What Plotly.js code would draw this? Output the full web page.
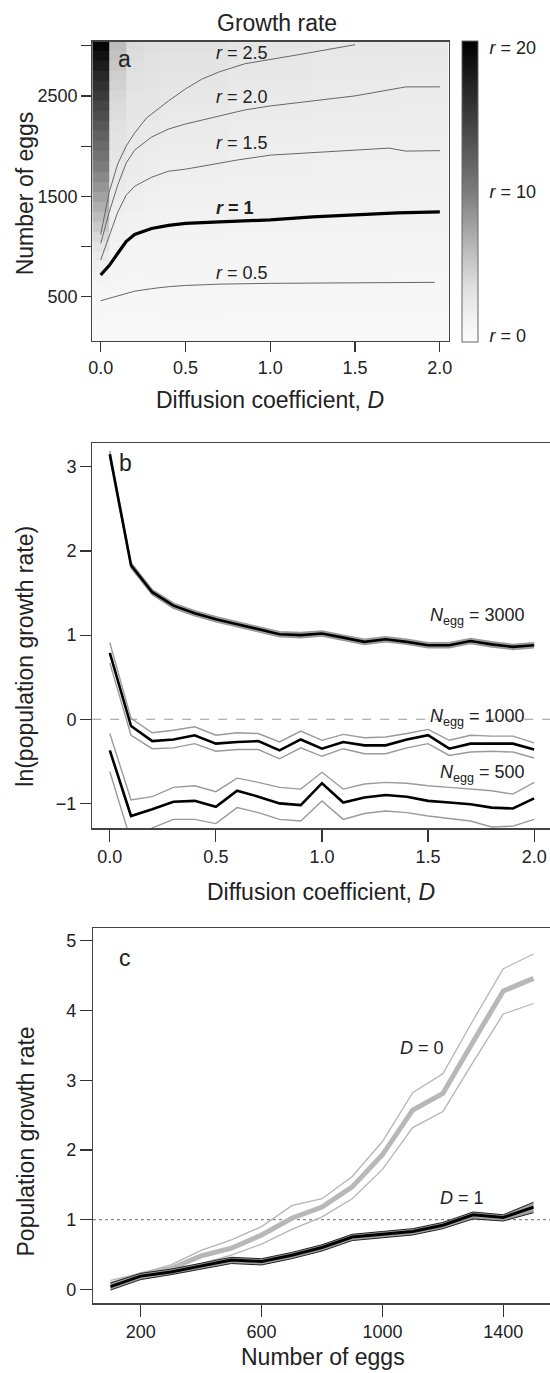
<!DOCTYPE html>
<html><head><meta charset="utf-8">
<script src="https://cdn.plot.ly/plotly-3.0.1.min.js"></script>
<style>html,body{margin:0;padding:0;overflow:hidden;background:#fff;width:550px;height:1373px}#chart{width:560px;height:1373px}</style>
</head><body><div id="chart"></div><script>
// ---------- Panel a: heatmap of growth rate r ----------
const heatEdgesD = [-0.05, 0.05, 0.15, 0.25, 0.35, 0.75, 1.25, 1.75, 2.05];
const heatEdgesEggs = [50,150,250,350,450,550,650,750,850,950,1050,1150,1250,1350,1450,1550,1650,1750,1850,1950,2050,2150,2250,2350,2450,2550,2650,2750,2850,2950,3050];
// r values per D column, eggs 100 .. 3000
const rD00 = [0.05,0.15,0.25,0.35,0.5,0.7,1.0,1.4,2.0,2.8,3.8,4.9,5.8,6.7,7.6,8.4,9.2,10.0,10.8,11.5,12.2,13.0,13.8,14.5,15.3,16.2,17.0,18.0,19.0,20.0];
const rD01 = [0.04,0.1,0.17,0.25,0.35,0.45,0.57,0.7,0.85,1.0,1.15,1.3,1.5,1.7,1.9,2.05,2.25,2.4,2.6,2.8,3.0,3.2,3.45,3.65,3.9,4.25,4.6,5.0,5.4,5.8];
const rD02 = [0.04,0.09,0.15,0.22,0.3,0.4,0.5,0.6,0.72,0.85,0.98,1.1,1.25,1.42,1.6,1.72,1.84,1.96,2.08,2.2,2.34,2.48,2.62,2.76,2.9,3.04,3.18,3.32,3.46,3.6];
const rD03 = [0.04,0.09,0.15,0.25,0.38,0.52,0.6,0.68,0.76,0.84,0.92,1.02,1.12,1.22,1.32,1.42,1.52,1.65,1.78,1.9,2.03,2.25,2.5,2.62,2.74,2.86,2.98,3.08,3.2,3.3];
const rD05 = [0.04,0.1,0.18,0.28,0.4,0.49,0.57,0.65,0.73,0.8,0.88,0.97,1.07,1.16,1.24,1.33,1.42,1.53,1.67,1.8,1.9,1.97,2.12,2.28,2.42,2.55,2.7,2.85,3.0,3.2];
const rD10 = [0.03,0.09,0.17,0.26,0.38,0.48,0.55,0.62,0.7,0.78,0.86,0.94,1.03,1.1,1.17,1.25,1.33,1.41,1.49,1.58,1.67,1.78,1.89,2.0,2.1,2.2,2.31,2.42,2.55,2.7];
const rD15 = [0.03,0.09,0.17,0.26,0.37,0.47,0.54,0.61,0.68,0.75,0.83,0.91,0.99,1.06,1.13,1.2,1.27,1.35,1.44,1.53,1.62,1.71,1.8,1.9,2.0,2.09,2.18,2.27,2.36,2.45];
const rD20 = [0.03,0.09,0.16,0.25,0.36,0.46,0.53,0.6,0.67,0.74,0.81,0.88,0.96,1.03,1.1,1.18,1.26,1.34,1.42,1.51,1.6,1.68,1.76,1.85,1.93,2.01,2.1,2.2,2.3,2.4];

// contour lines (D, eggs)
const r25D = [0, 0.05, 0.1, 0.15, 0.2, 0.27, 0.4, 0.5, 0.6, 0.7, 0.85, 1.0, 1.2, 1.5];
const r25N = [1120, 1540, 1820, 2000, 2130, 2280, 2450, 2570, 2670, 2740, 2820, 2860, 2920, 3010];
const r20D = [0, 0.05, 0.1, 0.15, 0.2, 0.3, 0.4, 0.5, 0.6, 0.7, 0.85, 1.0, 1.25, 1.5, 1.8, 2.0];
const r20N = [1030, 1340, 1610, 1830, 1960, 2090, 2170, 2220, 2260, 2300, 2360, 2400, 2450, 2500, 2590, 2590];
const r15D = [0, 0.05, 0.1, 0.15, 0.2, 0.3, 0.4, 0.5, 0.6, 0.8, 1.0, 1.3, 1.5, 1.7, 1.8, 2.0];
const r15N = [866, 1100, 1340, 1510, 1600, 1690, 1750, 1770, 1800, 1860, 1910, 1940, 1960, 1980, 1950, 1955];
const r10D = [0, 0.05, 0.1, 0.15, 0.2, 0.3, 0.4, 0.5, 0.7, 1.0, 1.25, 1.5, 1.75, 2.0];
const r10N = [716, 810, 930, 1050, 1120, 1180, 1210, 1230, 1245, 1265, 1295, 1315, 1335, 1345];
const r05D = [0, 0.1, 0.2, 0.3, 0.4, 0.5, 0.7, 1.0, 1.5, 1.97];
const r05N = [460, 510, 555, 580, 600, 612, 625, 633, 638, 643];

// ---------- Panel b: ln(growth rate) vs D ----------
const Dvals = [0,0.1,0.2,0.3,0.4,0.5,0.6,0.7,0.8,0.9,1.0,1.1,1.2,1.3,1.4,1.5,1.6,1.7,1.8,1.9,2.0];
const n3000 = [3.15,1.83,1.51,1.35,1.26,1.19,1.13,1.07,1.01,1.00,1.02,0.97,0.92,0.95,0.92,0.88,0.88,0.93,0.89,0.86,0.88];
const n3000hi = [3.19,1.86,1.54,1.38,1.29,1.22,1.16,1.10,1.04,1.03,1.05,1.00,0.95,0.98,0.95,0.91,0.91,0.96,0.92,0.89,0.91];
const n3000lo = [3.11,1.80,1.48,1.32,1.23,1.16,1.10,1.04,0.98,0.97,0.99,0.94,0.89,0.92,0.89,0.85,0.85,0.90,0.86,0.83,0.85];
const n1000 = [0.79,-0.08,-0.26,-0.24,-0.19,-0.29,-0.27,-0.26,-0.37,-0.24,-0.35,-0.27,-0.31,-0.31,-0.24,-0.19,-0.35,-0.29,-0.29,-0.29,-0.36];
const n1000hi = [0.91,0.01,-0.16,-0.13,-0.09,-0.19,-0.16,-0.17,-0.27,-0.14,-0.25,-0.18,-0.22,-0.21,-0.17,-0.12,-0.25,-0.19,-0.20,-0.20,-0.28];
const n1000lo = [0.67,-0.19,-0.35,-0.34,-0.29,-0.38,-0.36,-0.36,-0.47,-0.34,-0.44,-0.35,-0.41,-0.41,-0.34,-0.29,-0.43,-0.39,-0.38,-0.39,-0.46];
const n500 = [-0.37,-1.15,-1.07,-0.98,-0.97,-1.04,-0.85,-0.92,-1.00,-1.02,-0.76,-0.99,-0.93,-0.90,-0.92,-0.97,-0.99,-1.01,-1.05,-1.06,-0.94];
const n500hi = [-0.17,-0.96,-0.92,-0.81,-0.79,-0.86,-0.70,-0.75,-0.81,-0.83,-0.63,-0.83,-0.77,-0.75,-0.76,-0.79,-0.81,-0.83,-0.85,-0.89,-0.75];
const n500lo = [-0.62,-1.45,-1.29,-1.19,-1.19,-1.24,-1.05,-1.11,-1.19,-1.21,-0.97,-1.19,-1.12,-1.09,-1.11,-1.15,-1.18,-1.21,-1.28,-1.27,-1.19];

// ---------- Panel c: growth rate vs number of eggs ----------
const eggs = [100,200,300,400,500,600,700,800,900,1000,1100,1200,1300,1400,1500];
const d0 = [0.07,0.21,0.30,0.48,0.59,0.78,1.02,1.18,1.47,1.93,2.57,2.81,3.55,4.28,4.46];
const d0hi = [0.13,0.23,0.35,0.56,0.71,0.90,1.20,1.30,1.62,2.12,2.82,3.09,3.86,4.60,4.81];
const d0lo = [0.01,0.17,0.28,0.37,0.49,0.65,0.86,1.04,1.30,1.72,2.32,2.55,3.26,3.95,4.10];
const d1 = [0.04,0.19,0.25,0.33,0.42,0.40,0.49,0.60,0.75,0.79,0.83,0.92,1.07,1.03,1.18];
const d1hi = [0.09,0.23,0.29,0.37,0.46,0.44,0.53,0.64,0.79,0.83,0.87,0.96,1.11,1.07,1.25];
const d1lo = [-0.01,0.14,0.21,0.29,0.37,0.35,0.44,0.55,0.70,0.74,0.78,0.87,1.01,0.98,1.10];

const xTickA = [0,0.5,1,1.5,2];
const xTickAText = ['0.0','0.5','1.0','1.5','2.0'];
const yTickA = [500,1000,1500,2000,2500,3000];
const yTickAText = ['500',' ','1500',' ','2500',' '];
const yTickB = [-1,0,1,2,3];
const xTickC = [200,600,1000,1400];
const yTickC = [0,1,2,3,4,5];
const cbTicks = [0,10,20];
const cbText = ['<i>r</i> = 0','<i>r</i> = 10','<i>r</i> = 20'];

// ---------- build ----------
const W = 560, H = 1373;
const F = '"Liberation Sans", Arial, Helvetica, sans-serif';
const px = v => v / W, py = v => 1 - v / H;

const cols = [rD00, rD01, rD02, rD03, rD05, rD10, rD15, rD20];
const z = rD00.map((_, i) => cols.map(c => c[i]));

const traces = [];
traces.push({type:'heatmap', x: heatEdgesD, y: heatEdgesEggs, z: z, xaxis:'x', yaxis:'y',
  zmin:-0.45, zmax:20.45,
  colorscale:[[0,'#fbfbfb'],[0.06,'#f4f4f4'],[0.17,'#e2e2e2'],[0.3,'#bdbdbd'],[0.5,'#7c7c7c'],[0.75,'#3c3c3c'],[1,'#000000']],
  zsmooth:false, hoverinfo:'skip',
  colorbar:{x:px(461.7), xanchor:'left', xref:'paper', y:py(191.3), yanchor:'middle', yref:'paper',
    len:300.7/H, lenmode:'fraction', thickness:16, thicknessmode:'pixels', xpad:0, ypad:0,
    outlinewidth:1, outlinecolor:'#666', tickmode:'array', tickvals:cbTicks, ticktext:cbText,
    ticks:'outside', ticklen:8, tickcolor:'rgba(0,0,0,0)', tickfont:{family:F, size:18, color:'#222'}}
});
const thin = {color:'#666', width:1};
[[r25D,r25N],[r20D,r20N],[r15D,r15N],[r05D,r05N]].forEach(([xx,yy]) => traces.push({type:'scatter', mode:'lines', x:xx, y:yy, xaxis:'x', yaxis:'y', line:thin, hoverinfo:'skip'}));
traces.push({type:'scatter', mode:'lines', x:r10D, y:r10N, xaxis:'x', yaxis:'y', line:{color:'#000', width:3.2}, hoverinfo:'skip'});

// panel b
traces.push({type:'scatter', mode:'lines', x:Dvals, y:n3000lo, xaxis:'x2', yaxis:'y2', line:{color:'#999', width:1.5}, hoverinfo:'skip'});
traces.push({type:'scatter', mode:'lines', x:Dvals, y:n3000hi, xaxis:'x2', yaxis:'y2', line:{color:'#999', width:1.5}, fill:'tonexty', fillcolor:'#a8a8a8', hoverinfo:'skip'});
[n1000hi, n1000lo, n500hi, n500lo].forEach(a => traces.push({type:'scatter', mode:'lines', x:Dvals, y:a, xaxis:'x2', yaxis:'y2', line:{color:'#9a9a9a', width:1.4}, hoverinfo:'skip'}));
[n3000, n1000, n500].forEach(a => traces.push({type:'scatter', mode:'lines', x:Dvals, y:a, xaxis:'x2', yaxis:'y2', line:{color:'#000', width:2.6}, hoverinfo:'skip'}));

// panel c
traces.push({type:'scatter', mode:'lines', x:eggs, y:d0hi, xaxis:'x3', yaxis:'y3', line:{color:'#b4b4b4', width:1.3}, hoverinfo:'skip'});
traces.push({type:'scatter', mode:'lines', x:eggs, y:d0lo, xaxis:'x3', yaxis:'y3', line:{color:'#b4b4b4', width:1.3}, hoverinfo:'skip'});
traces.push({type:'scatter', mode:'lines', x:eggs, y:d0, xaxis:'x3', yaxis:'y3', line:{color:'#b8b8b8', width:5}, hoverinfo:'skip'});
traces.push({type:'scatter', mode:'lines', x:eggs, y:d1lo, xaxis:'x3', yaxis:'y3', line:{color:'#222', width:1}, hoverinfo:'skip'});
traces.push({type:'scatter', mode:'lines', x:eggs, y:d1hi, xaxis:'x3', yaxis:'y3', line:{color:'#222', width:1}, fill:'tonexty', fillcolor:'#a0a0a0', hoverinfo:'skip'});
traces.push({type:'scatter', mode:'lines', x:eggs, y:d1, xaxis:'x3', yaxis:'y3', line:{color:'#000', width:3}, hoverinfo:'skip'});

function ax(extra){
  return Object.assign({showline:true, mirror:true, linecolor:'#444', linewidth:1.2, ticks:'outside', ticklen:10,
    tickwidth:1.2, tickcolor:'#333', showgrid:false, zeroline:false, fixedrange:true,
    tickfont:{family:F, size:18, color:'#222'}}, extra);
}

const tf = (s) => ({family:F, size:s, color:'#222'});
const ann = [];
function A(o){ ann.push(Object.assign({showarrow:false}, o)); }
// titles
A({text:'Growth rate', xref:'paper', yref:'paper', x:px(277), y:py(23), xanchor:'center', yanchor:'middle', font:tf(23)});
A({text:'Diffusion coefficient, <i>D</i>', xref:'paper', yref:'paper', x:px(270), y:py(400), xanchor:'center', yanchor:'middle', font:tf(23)});
A({text:'Number of eggs', xref:'paper', yref:'paper', x:px(25), y:py(193.3), textangle:-90, xanchor:'center', yanchor:'middle', font:tf(23)});
A({text:'Diffusion coefficient, <i>D</i>', xref:'paper', yref:'paper', x:px(321), y:py(892), xanchor:'center', yanchor:'middle', font:tf(23)});
A({text:'ln(population growth rate)', xref:'paper', yref:'paper', x:px(25), y:py(656.7), textangle:-90, xanchor:'center', yanchor:'middle', font:tf(23)});
A({text:'Number of eggs', xref:'paper', yref:'paper', x:px(322.7), y:py(1357), xanchor:'center', yanchor:'middle', font:tf(23)});
A({text:'Population growth rate', xref:'paper', yref:'paper', x:px(25), y:py(1141.5), textangle:-90, xanchor:'center', yanchor:'middle', font:tf(23)});
// panel letters
A({text:'a', xref:'x', yref:'y', x:0.143, y:2868, xanchor:'center', yanchor:'middle', font:tf(23)});
A({text:'b', xref:'x2', yref:'y2', x:0.074, y:3.05, xanchor:'center', yanchor:'middle', font:tf(23)});
A({text:'c', xref:'x3', yref:'y3', x:149, y:4.75, xanchor:'center', yanchor:'middle', font:tf(23)});
// panel a contour labels
A({text:'<i>r</i> = 2.5', xref:'x', yref:'y', x:0.668, y:2924, xanchor:'left', yanchor:'middle', font:tf(18)});
A({text:'<i>r</i> = 2.0', xref:'x', yref:'y', x:0.668, y:2486, xanchor:'left', yanchor:'middle', font:tf(18)});
A({text:'<i>r</i> = 1.5', xref:'x', yref:'y', x:0.668, y:2034, xanchor:'left', yanchor:'middle', font:tf(18)});
A({text:'<b><i>r</i> = 1</b>', xref:'x', yref:'y', x:0.668, y:1380, xanchor:'left', yanchor:'middle', font:tf(18)});
A({text:'<i>r</i> = 0.5', xref:'x', yref:'y', x:0.668, y:733, xanchor:'left', yanchor:'middle', font:tf(18)});
// panel b labels
A({text:'<i>N</i><sub>egg</sub> = 3000', xref:'x2', yref:'y2', x:1.967, y:1.22, xanchor:'right', yanchor:'middle', font:tf(18)});
A({text:'<i>N</i><sub>egg</sub> = 1000', xref:'x2', yref:'y2', x:1.967, y:0.02, xanchor:'right', yanchor:'middle', font:tf(18)});
A({text:'<i>N</i><sub>egg</sub> = 500', xref:'x2', yref:'y2', x:1.967, y:-0.65, xanchor:'right', yanchor:'middle', font:tf(18)});
// panel c labels
A({text:'<i>D</i> = 0', xref:'x3', yref:'y3', x:1052, y:3.468, xanchor:'left', yanchor:'middle', font:tf(18)});
A({text:'<i>D</i> = 1', xref:'x3', yref:'y3', x:1185, y:1.317, xanchor:'left', yanchor:'middle', font:tf(18)});

const layout = {
  width:W, height:H, margin:{l:0,r:0,t:0,b:0}, showlegend:false,
  paper_bgcolor:'#fff', plot_bgcolor:'#fff', font:{family:F, color:'#222'},
  xaxis: ax({domain:[px(92.3), px(449)], range:[-0.0495, 2.054], anchor:'y', tickmode:'array', tickvals:xTickA, ticktext:xTickAText}),
  yaxis: ax({domain:[py(341), py(41.5)], range:[58.8, 3041.8], anchor:'x', tickmode:'array', tickvals:yTickA, ticktext:yTickAText}),
  xaxis2: ax({domain:[px(92.2), px(556)], range:[-0.083, 2.103], anchor:'y2', tickmode:'array', tickvals:xTickA, ticktext:xTickAText, ticklen:12}),
  yaxis2: ax({domain:[py(828.3), py(443.3)], range:[-1.296, 3.28], anchor:'x2', tickmode:'array', tickvals:yTickB, ticklen:11}),
  xaxis3: ax({domain:[px(93), px(556)], range:[42.1, 1574.4], anchor:'y3', tickmode:'array', tickvals:xTickC, ticklen:12}),
  yaxis3: ax({domain:[py(1303.3), py(927.7)], range:[-0.2, 5.187], anchor:'x3', tickmode:'array', tickvals:yTickC, ticklen:12}),
  shapes:[
    {type:'line', xref:'x2 domain', yref:'y2', x0:0, x1:1, y0:0, y1:0, line:{color:'#999', width:1.2, dash:'dash'}, layer:'below'},
    {type:'line', xref:'x3 domain', yref:'y3', x0:0, x1:1, y0:1, y1:1, line:{color:'#888', width:1.2, dash:'dot'}, layer:'below'}
  ],
  annotations: ann
};
Plotly.newPlot('chart', traces, layout, {staticPlot:true, displayModeBar:false});
</script></body></html>
